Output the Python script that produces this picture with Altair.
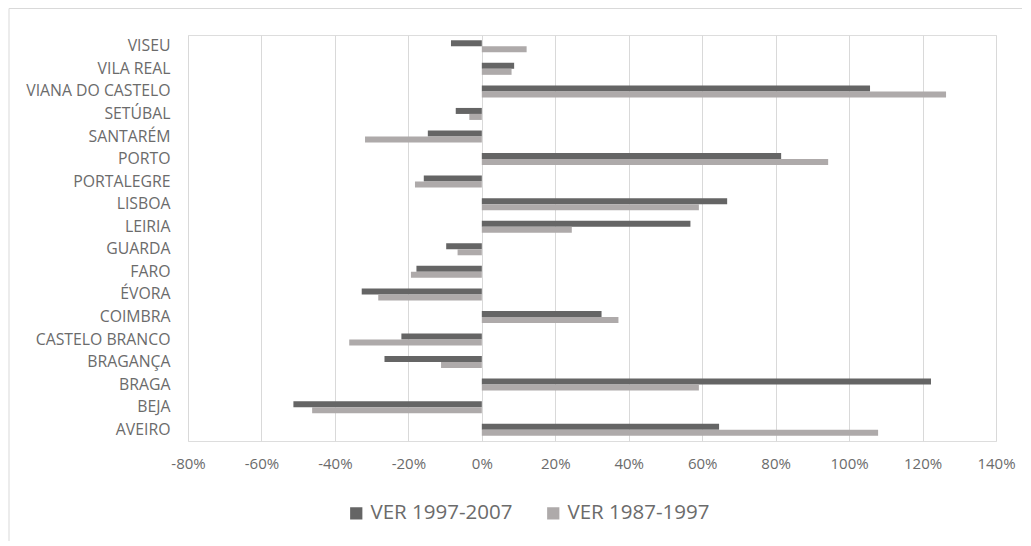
import altair as alt
import pandas as pd

categories = ["VISEU", "VILA REAL", "VIANA DO CASTELO", "SETÚBAL", "SANTARÉM", "PORTO",
              "PORTALEGRE", "LISBOA", "LEIRIA", "GUARDA", "FARO", "ÉVORA", "COIMBRA",
              "CASTELO BRANCO", "BRAGANÇA", "BRAGA", "BEJA", "AVEIRO"]
ver_1997_2007 = [-8.4, 8.8, 105.7, -7.1, -14.7, 81.5, -15.8, 66.8, 56.8, -9.7, -17.8,
                 -32.7, 32.6, -21.9, -26.5, 122.3, -51.3, 64.6]
ver_1987_1997 = [12.2, 8.1, 126.4, -3.4, -31.8, 94.3, -18.2, 59.1, 24.5, -6.6, -19.3,
                 -28.2, 37.2, -36.1, -11.1, 59.1, -46.2, 107.9]
series = ["VER 1997-2007", "VER 1987-1997"]
colors = ["#656565", "#AEAAAA"]
x_ticks = [-0.8, -0.6, -0.4, -0.2, 0, 0.2, 0.4, 0.6, 0.8, 1.0, 1.2, 1.4]

rows = []
for i, c in enumerate(categories):
    rows.append({"distrito": c, "serie": series[0], "valor": ver_1997_2007[i] / 100})
    rows.append({"distrito": c, "serie": series[1], "valor": ver_1987_1997[i] / 100})
df = pd.DataFrame(rows)

W, H = 808, 406
PAD = {"left": 180, "top": 27, "right": 26, "bottom": 100}
FONT = "Open Sans"
TXT = "#6B6B6B"

bars = alt.Chart(df).mark_bar().encode(
    y=alt.Y("distrito:N", sort=categories, title=None,
            scale=alt.Scale(paddingInner=0.468, paddingOuter=0.234),
            axis=alt.Axis(ticks=False, domain=False, labelPadding=18,
                          labelFontSize=15.8, labelColor=TXT, labelFont=FONT)),
    yOffset=alt.YOffset("serie:N", sort=series),
    x=alt.X("valor:Q", title=None,
            scale=alt.Scale(domain=[-0.8, 1.4], nice=False, zero=False),
            axis=alt.Axis(values=x_ticks, ticks=False, domain=False,
                          labelExpr="(datum.value < 0 ? '-' : '') + format(abs(datum.value), '.0%')",
                          grid=True, gridColor="#D9D9D9", gridWidth=1,
                          labelPadding=15, labelFontSize=15, labelColor=TXT,
                          labelFont=FONT, labelFlush=False)),
    color=alt.Color("serie:N", sort=series,
                    scale=alt.Scale(domain=series, range=colors),
                    legend=alt.Legend(title=None, orient="none", direction="horizontal",
                                      legendX=158, legendY=468,
                                      symbolType="square", symbolSize=150,
                                      symbolStrokeWidth=0, labelFontSize=20.5,
                                      labelFont=FONT, labelColor=TXT,
                                      labelOffset=4, columnPadding=30)),
)

frame = alt.Chart(pd.DataFrame({"k": [0]})).mark_rect(
    filled=False, stroke="#D9D9D9", strokeWidth=1
).encode(
    x=alt.value(-PAD["left"] + 1),
    x2=alt.value(W + PAD["right"] + 10),
    y=alt.value(-PAD["top"] + 0.5),
    y2=alt.value(H + PAD["bottom"] + 10),
)

chart = alt.layer(frame, bars).properties(
    width=W, height=H, padding=PAD,
    autosize=alt.AutoSizeParams(type="none"),
).configure_view(strokeWidth=0, stroke="transparent").configure(background="white")

chart.save("out.html", embed_options={"renderer": "svg", "actions": False})
